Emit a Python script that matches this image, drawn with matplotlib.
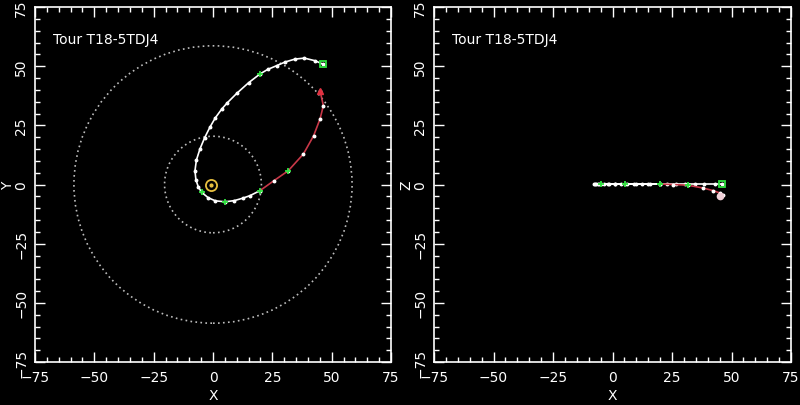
import matplotlib.pyplot as plt
from matplotlib.patches import Circle
from matplotlib.ticker import MultipleLocator

# trajectory, white part (x, y, z)
white_x = [46.2, 43.0, 38.5, 34.6, 30.5, 26.8, 23.0, 19.8, 15.0, 10.0, 6.0, 3.7, 1.0,
           -1.3, -3.5, -5.5, -7.0, -7.6, -7.2, -6.2, -4.8, -2.0, 1.0, 5.1, 9.0, 12.5,
           15.6, 19.8]
white_y = [50.9, 52.3, 53.4, 53.0, 51.8, 50.2, 48.6, 46.7, 43.0, 38.5, 34.5, 31.9, 28.2,
           24.2, 19.8, 15.0, 10.3, 5.8, 2.0, -1.0, -3.3, -5.6, -6.9, -7.3, -6.8, -5.8,
           -4.7, -2.6]
white_z = [0.3] * len(white_x)

# trajectory, red part
red_x = [19.8, 25.5, 31.7, 38.1, 42.4, 45.1, 46.5, 45.1]
red_y = [-2.6, 1.5, 5.8, 12.9, 20.6, 27.7, 33.3, 39.6]
red_z = [0.2, 0.0, -0.3, -1.5, -2.6, -3.6, -4.3, -4.9]

# flyby / event markers
green_x = [-4.8, 5.1, 19.8, 19.8, 31.7]
green_y = [-3.3, -7.3, -2.6, 46.7, 5.8]
green_z = [0.3, 0.3, 0.3, 0.3, 0.0]
square_xyz = (46.2, 50.9, 0.3)
red_end = (45.1, 39.6, -4.9)

sun = (-1.0, 0.0)
orbit_radii = [20.4, 58.6]

title = "Tour T18-5TDJ4"

fig = plt.figure(figsize=(8, 4.06), dpi=100, facecolor="black")
ax1 = fig.add_axes([35 / 800, 43 / 406, 356 / 800, 355 / 406])
ax2 = fig.add_axes([434 / 800, 43 / 406, 357 / 800, 355 / 406])


def style(ax, ylab):
    ax.set_facecolor("black")
    ax.set_xlim(-75, 75)
    ax.set_ylim(-75, 75)
    for s in ax.spines.values():
        s.set_color("white")
        s.set_linewidth(1.2)
    ax.xaxis.set_major_locator(MultipleLocator(25))
    ax.yaxis.set_major_locator(MultipleLocator(25))
    ax.xaxis.set_minor_locator(MultipleLocator(5))
    ax.yaxis.set_minor_locator(MultipleLocator(5))
    ax.tick_params(which="both", direction="in", top=True, right=True,
                   colors="white", labelsize=10)
    ax.tick_params(which="major", length=7, width=1)
    ax.tick_params(which="minor", length=3.5, width=1)
    ax.tick_params(axis="y", labelrotation=90, pad=5)
    ax.tick_params(axis="x", pad=6)
    for lab in ax.get_yticklabels():
        lab.set_va("center")
    ax.set_xlabel("X", color="white", fontsize=10)
    ax.set_ylabel(ylab, color="white", fontsize=10)
    ax.xaxis.set_label_coords(0.5, -0.074)
    ax.yaxis.set_label_coords(-0.057, 0.5)
    ax.text(-67.5, 61.5, title, color="white", fontsize=10, va="center")


style(ax1, "Y")
style(ax2, "Z")

# left: X-Y plane
for r in orbit_radii:
    ax1.add_patch(Circle((0, 0), r, fill=False, edgecolor="#bdbdbd",
                         linewidth=1.2, linestyle=(0, (1, 2))))
ax1.plot(white_x, white_y, color="white", lw=1.2, marker="o", ms=1.8)
ax1.plot(red_x, red_y, color="#c83848", lw=1.2, marker="o", ms=1.8,
         mfc="white", mec="white")
ax1.plot(green_x, green_y, ls="none", marker="+", ms=5, mew=1.3, color="#30e040")
ax1.plot(square_xyz[0], square_xyz[1], ls="none", marker="s", ms=4.5, mfc="none",
         mew=1.3, color="#30e040")
ax1.plot(red_end[0], red_end[1], ls="none", marker="^", ms=4.5, color="#e03040")
ax1.plot(*sun, ls="none", marker="o", ms=8, mfc="none", mew=1.3, color="#e8c040")
ax1.plot(*sun, ls="none", marker="o", ms=2, color="#e8c040")

# right: X-Z plane
ax2.plot(white_x, white_z, color="white", lw=1.2, marker="o", ms=1.8)
ax2.plot(red_x, red_z, color="#c83848", lw=1.2, marker="o", ms=1.8,
         mfc="white", mec="white")
ax2.plot(green_x, green_z, ls="none", marker="+", ms=5, mew=1.3, color="#30e040")
ax2.plot(square_xyz[0], square_xyz[2], ls="none", marker="s", ms=4.5, mfc="none",
         mew=1.3, color="#30e040")
ax2.plot(red_end[0], red_end[2], ls="none", marker="o", ms=4.5, color="#f0d0d8")

fig.savefig("out.png", dpi=100, facecolor="black")
